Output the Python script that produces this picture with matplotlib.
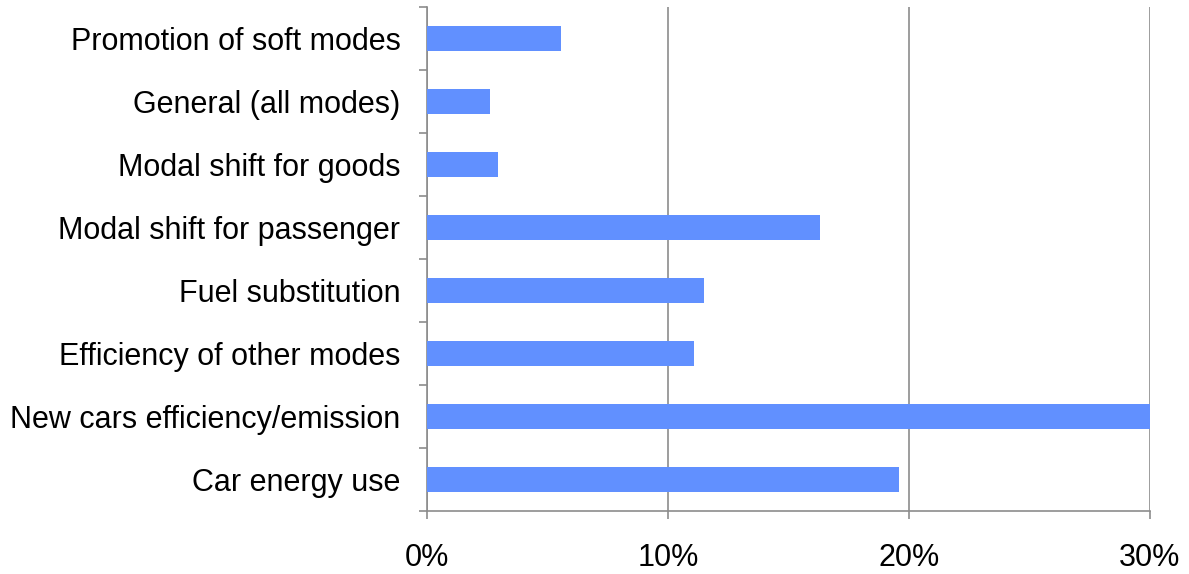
import matplotlib
matplotlib.use("Agg")
import matplotlib.pyplot as plt
import numpy as np

categories = ["Car energy use", "New cars efficiency/emission", "Efficiency of other modes",
              "Fuel substitution", "Modal shift for passenger", "Modal shift for goods",
              "General (all modes)", "Promotion of soft modes"]
shares = [19.6, 30.0, 11.1, 11.5, 16.3, 2.95, 2.6, 5.55]
xticks = [0, 10, 20, 30]
xtick_labels = ["0%", "10%", "20%", "30%"]

plt.rcParams['font.family'] = ['Liberation Sans', 'DejaVu Sans']

fig = plt.figure(figsize=(11.89, 5.74), dpi=100)
ax = fig.add_axes([0.359, 0.110, 0.608, 0.878])

grey = '#8c8c8c'
pos = np.arange(len(categories))
ax.barh(pos, shares, height=0.4, color='#6190FF', zorder=3)

ax.set_xlim(0, 30)
ax.set_ylim(-0.5, len(categories) - 0.5)
ax.set_xticks(xticks)
ax.set_xticklabels(xtick_labels, fontsize=22)
ax.xaxis.grid(True, color=grey, linewidth=1.2, zorder=0)

# category labels in the middle, tick marks at the boundaries
ax.set_yticks(pos)
ax.set_yticklabels(categories, fontsize=22)
ax.set_yticks(np.arange(len(categories) + 1) - 0.5, minor=True)
ax.tick_params(axis='y', which='major', length=0, pad=19)
ax.tick_params(axis='y', which='minor', length=6, color=grey, width=1.2)
ax.tick_params(axis='x', length=6, color=grey, width=1.2, pad=17)

for s in ['top', 'right']:
    ax.spines[s].set_visible(False)
for s in ['left', 'bottom']:
    ax.spines[s].set_color(grey)
    ax.spines[s].set_linewidth(1.2)

fig.savefig("out.png", dpi=100)
